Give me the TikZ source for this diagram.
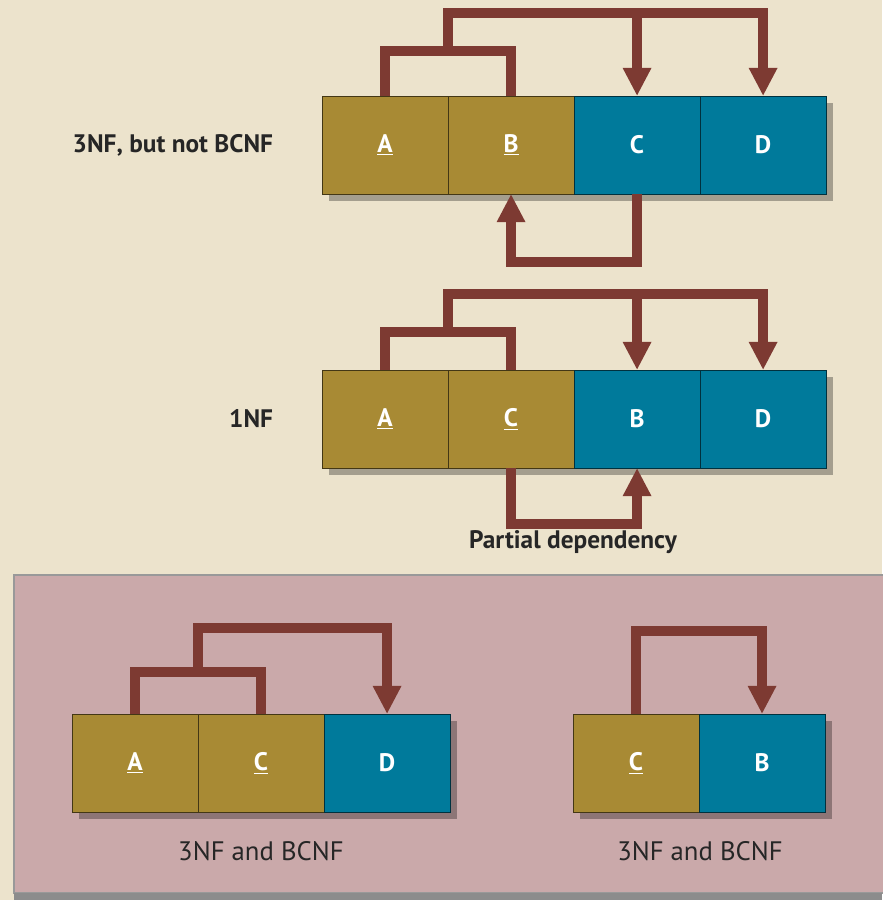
\documentclass[tikz,border=0pt]{standalone}
\usepackage{fontspec}
\setmainfont{PT Sans}
\usepackage{tikz}
\usetikzlibrary{positioning,arrows.meta,shadows}

\definecolor{paper}{HTML}{ECE3CC}
\definecolor{olivec}{HTML}{A88A34}
\definecolor{tealc}{HTML}{007A9B}
\definecolor{linkc}{HTML}{7D3A32}
\definecolor{panelc}{HTML}{CAA9AA}

\begin{document}
\begin{tikzpicture}[x=0.025cm, y=-0.025cm,
  cell/.style={minimum width=3.15cm, minimum height=2.45cm, inner sep=0pt,
    outer sep=0pt, text=white, line width=0.6pt,
    font=\bfseries\fontsize{18}{20}\selectfont,
    drop shadow={shadow xshift=5pt, shadow yshift=-5pt, opacity=.3, fill=black}},
  keyc/.style={cell, fill=olivec, draw=olivec!40!black},
  depc/.style={cell, fill=tealc, draw=tealc!40!black},
  link/.style={draw=linkc, line width=7pt},
  dep/.style={link, -{Triangle[width=19pt,length=20pt]}},
  lbl/.style={font=\bfseries\fontsize{18}{21}\selectfont, text=black!85},
  note/.style={font=\fontsize{19}{22}\selectfont, text=black!85}]
  \fill[paper] (0,0) rectangle (882,900);
  \useasboundingbox (0,0) rectangle (882,900);
  \fill[panelc, draw=black!40, line width=1.5pt] (14,575) rectangle (900,893);
  \fill[black!45] (14,893) rectangle (882,900);

  \node[keyc] (tA) at (385,145) {\underline{A}};
  \node[keyc, right=0pt of tA] (tB) {\underline{B}};
  \node[depc, right=0pt of tB] (tC) {C};
  \node[depc, right=0pt of tC] (tD) {D};
  \node[lbl, left=1.1cm of tA] (tName) {3NF, but not BCNF};
  \coordinate (tJ) at (448,51);
  \coordinate (tT) at (448,13);
  \draw[link] (tA.north) |- (tJ) -| (tB.north);
  \draw[dep] (tJ) -- (tT) -| (tD.north);
  \draw[dep] (tT -| tC.north) -- (tC.north);
  \draw[dep] (tC.south) -- ++(0,68) -| (tB.south);

  \node[keyc] (mA) at (385,419) {\underline{A}};
  \node[keyc, right=0pt of mA] (mC) {\underline{C}};
  \node[depc, right=0pt of mC] (mB) {B};
  \node[depc, right=0pt of mB] (mD) {D};
  \node[lbl, left=1.1cm of mA] (mName) {1NF};
  \coordinate (mJ) at (448,332);
  \coordinate (mT) at (448,294);
  \draw[link] (mA.north) |- (mJ) -| (mC.north);
  \draw[dep] (mJ) -- (mT) -| (mD.north);
  \draw[dep] (mT -| mB.north) -- (mB.north);
  \draw[dep] (mC.south) -- ++(0,56) -| (mB.south);
  \node[lbl] (pdep) at (573,542) {Partial dependency};

  \node[keyc] (lA) at (135,763) {\underline{A}};
  \node[keyc, right=0pt of lA] (lC) {\underline{C}};
  \node[depc, right=0pt of lC] (lD) {D};
  \coordinate (lJ) at (198,672);
  \coordinate (lT) at (198,628);
  \draw[link] (lA.north) |- (lJ) -| (lC.north);
  \draw[dep] (lJ) -- (lT) -| (lD.north);
  \node[note] (lName) at (261,851) {3NF and BCNF};

  \node[keyc] (rC) at (636,763) {\underline{C}};
  \node[depc, right=0pt of rC] (rB) {B};
  \draw[dep] (rC.north) -- ++(0,-83) -| (rB.north);
  \node[note] (rName) at (700,851) {3NF and BCNF};
\end{tikzpicture}
\end{document}
